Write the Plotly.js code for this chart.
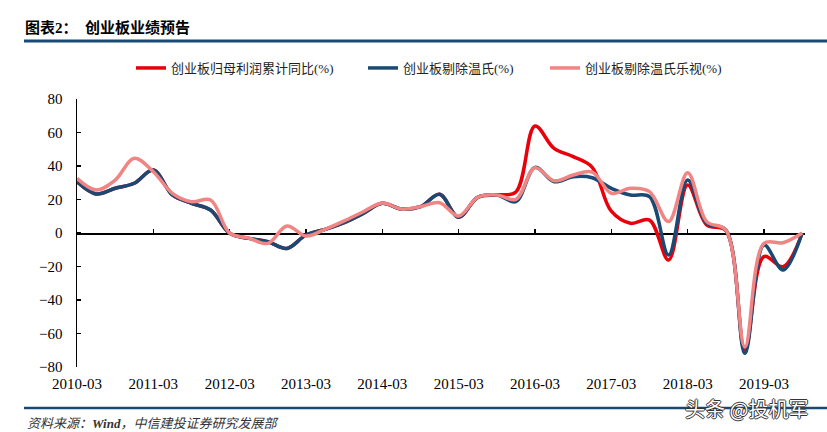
<!DOCTYPE html>
<html>
<head>
<meta charset="utf-8">
<script src="https://cdn.plot.ly/plotly-3.0.1.min.js"></script>
<style>html,body{margin:0;padding:0;background:#fff;}#chart{width:827px;height:432px;}</style>
</head>
<body>
<div id="chart"></div>
<script>
// Quarterly periods 2010-03 .. 2019-09
const quarters = ["2010-03","2010-06","2010-09","2010-12","2011-03","2011-06","2011-09","2011-12",
  "2012-03","2012-06","2012-09","2012-12","2013-03","2013-06","2013-09","2013-12",
  "2014-03","2014-06","2014-09","2014-12","2015-03","2015-06","2015-09","2015-12",
  "2016-03","2016-06","2016-09","2016-12","2017-03","2017-06","2017-09","2017-12",
  "2018-03","2018-06","2018-09","2018-12","2019-03","2019-06","2019-09"];
const tickLabels = ["2010-03","2011-03","2012-03","2013-03","2014-03","2015-03","2016-03","2017-03","2018-03","2019-03"];
const seriesNames = ["创业板归母利润累计同比(%)","创业板剔除温氏(%)","创业板剔除温氏乐视(%)"];
const profitYoY = [30.6,23.3,26.7,29.7,37.6,22.7,17.7,13.7,-0.2,-3.2,-5.2,-9.2,-1.2,2.2,6.2,11.7,
  17.7,14.3,15.7,23.1,9.4,21.3,22.7,24.5,63.9,50.5,45.6,39.2,13.0,5.8,7.7,-16.1,
  28.7,4.8,1.4,-70.0,-14.1,-20.1,0];
const exWens = [30.6,23.3,26.7,29.7,37.6,22.7,17.7,13.7,-0.2,-3.2,-5.2,-9.2,-1.2,2.2,6.2,11.7,
  17.7,14.3,15.7,23.1,9.4,21.3,22.7,18.7,39.2,30.6,33.6,33.0,26.7,22.7,21.7,-13.1,
  31.6,5.8,1.8,-72.0,-7.2,-22.1,0];
const exWensLeshi = [32.6,25.7,31.6,44.6,36.6,23.7,18.7,19.7,0,-3.0,-6.2,4.2,-1.8,2.2,7.2,12.7,
  17.9,14.3,15.7,18.1,10.1,21.3,22.7,20.1,39.0,31.2,34.6,36.4,23.7,26.7,24.7,6.8,
  36.0,6.8,1.8,-68.0,-6.2,-5.8,0];

const idx = quarters.map((q,i)=>i);
const tickIdx = tickLabels.map(t=>quarters.indexOf(t));
const colors = ["#E8000B","#1A4A74","#F08584"];
const legendWidths = [187, 137, 150];
const serif = "'Liberation Serif','Times New Roman','Noto Sans CJK SC',serif";

const seriesData = [profitYoY, exWens, exWensLeshi];
const traces = seriesData.map((ys,k)=>({
  x: idx, y: ys, type:'scatter', mode:'lines', name: seriesNames[k],
  line:{color:colors[k], width:3.5, shape:'spline', smoothing:1},
  legendwidth: legendWidths[k],
  hoverinfo:'skip'
}));
// helper trace so the zero-crossing axis is built
traces.push({x: idx, y: exWens, xaxis:'x2', yaxis:'y', type:'scatter', mode:'lines',
  line:{width:0, color:'rgba(0,0,0,0)'}, showlegend:false, hoverinfo:'skip'});

const lineBlue = "#1A4A74";
const W = 827, L = 77, R = 22, T = 99, B = 65;
const pw = W - L - R, ph = 432 - T - B;
const px = v => (v - L) / pw;
const py = v => (432 - B - v) / ph;
const layout = {
  width:827, height:432,
  margin:{l:L, r:R, t:T, b:B},
  paper_bgcolor:'#fff', plot_bgcolor:'#fff',
  showlegend:true,
  title:{text:'<b>图表2：  创业板业绩预告</b>', xref:'container', yref:'container',
    x:25/827, xanchor:'left', y:1-28/432, yanchor:'middle',
    font:{family:serif, size:15, color:'#000'}},
  legend:{orientation:'h', x:px(131), xanchor:'left', y:py(68), yanchor:'middle',
    font:{family:serif, size:13, color:'#222'}, bgcolor:'rgba(0,0,0,0)'},
  xaxis:{range:[0,38.15], tickmode:'array', tickvals:tickIdx, ticktext:tickLabels,
    showline:false, ticks:'', showgrid:false, zeroline:false,
    tickfont:{family:serif, size:15, color:'#000'}, ticklabelstandoff:6},
  xaxis2:{overlaying:'x', matches:'x', anchor:'free', position:0.5,
    tickmode:'array', tickvals:tickIdx, showticklabels:false,
    showline:true, linecolor:'#000', linewidth:1.5, ticks:'inside', ticklen:4, tickwidth:1.2, tickcolor:'#000',
    showgrid:false, zeroline:false, layer:'below traces'},
  yaxis:{range:[-80,80], tickmode:'array', tickvals:[-80,-60,-40,-20,0,20,40,60,80],
    showline:true, linecolor:'#000', linewidth:1.5, ticks:'inside', ticklen:4, tickwidth:1.2, tickcolor:'#000',
    showgrid:false, zeroline:false, tickfont:{family:serif, size:15, color:'#000'}, ticklabelstandoff:10},
  shapes:[
    {type:'line', xref:'paper', yref:'paper', x0:px(24), x1:px(827), y0:py(41), y1:py(41),
      line:{color:lineBlue, width:3}},
    {type:'line', xref:'paper', yref:'paper', x0:px(24), x1:px(827), y0:py(408), y1:py(408),
      line:{color:lineBlue, width:2.5}}
  ],
  annotations:[
    {text:'资料来源：<b>Wind</b>，中信建投证券研究发展部', xref:'paper', yref:'paper', x:px(25), xanchor:'left',
      y:py(423), yanchor:'middle', showarrow:false,
      font:{family:serif, size:13, color:'#333', style:'italic'}},
    {text:'头条 @投机军', xref:'paper', yref:'paper', x:px(683), xanchor:'left',
      y:py(408), yanchor:'middle', showarrow:false,
      font:{family:"'Noto Sans CJK SC',sans-serif", size:20, color:'#fff',
        shadow:'1px 0 0 #333, -1px 0 0 #333, 0 1px 0 #333, 0 -1px 0 #333'}}
  ]
};
Plotly.newPlot('chart', traces, layout, {staticPlot:true, displayModeBar:false});
</script>
</body>
</html>
